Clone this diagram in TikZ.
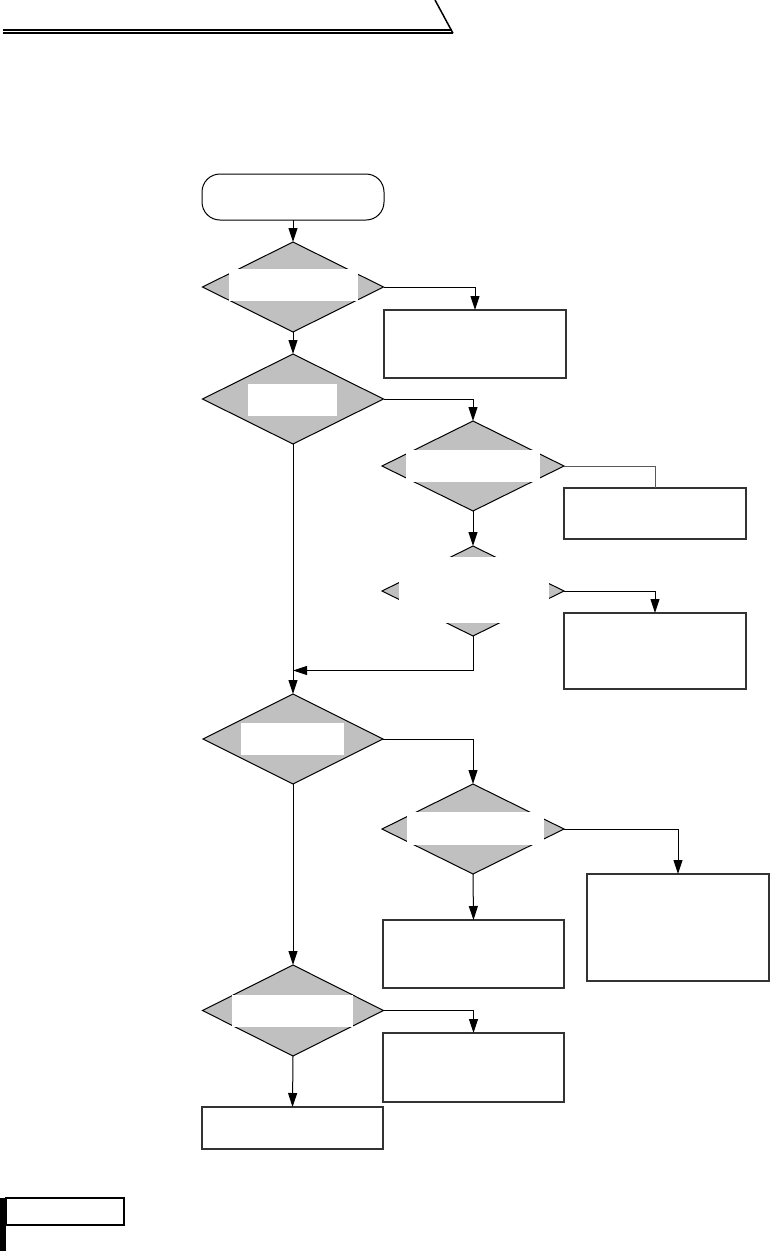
\documentclass[tikz,border=0pt]{standalone}
\usetikzlibrary{shapes.geometric,arrows.meta,calc}
\definecolor{dfill}{HTML}{C0C0C0}
\begin{document}
\begin{tikzpicture}[x=1pt,y=-1pt,
  dec/.style={diamond,draw=black,fill=dfill,line width=1pt,inner sep=0pt,outer sep=0pt},
  cover/.style={fill=white,draw=none,inner sep=0pt,outer sep=0pt},
  procbox/.style={rectangle,draw=black!80,line width=1.2pt,inner sep=0pt,outer sep=0pt,fill=white},
  conn/.style={line width=1pt,draw=black},
  arr/.style={conn,-{Triangle[length=14pt,width=9pt]}}]
\useasboundingbox (0,0) rectangle (771,1251);
% header
\draw[line width=1.8pt] (3,29.8) -- (451.5,29.8);
\draw[line width=1.8pt] (3,33.3) -- (453,33.3);
\draw[line width=1.5pt] (435,0) -- (453,33.3);
% start
\node[draw=black,line width=1pt,rounded corners=18pt,minimum width=182pt,minimum height=46pt,inner sep=0pt,outer sep=0pt] (start) at (293,197) {};
% diamonds
\node[dec,minimum width=181pt,minimum height=90pt] (d1) at (293,287) {};
\node[cover,minimum width=129pt,minimum height=32pt] (w1) at (293.5,285) {};
\node[dec,minimum width=181pt,minimum height=90pt] (d2) at (293,399) {};
\node[cover,minimum width=89pt,minimum height=32pt] (w2) at (292.5,400) {};
\node[dec,minimum width=182pt,minimum height=90pt] (d3) at (473,466) {};
\node[cover,minimum width=134pt,minimum height=32pt] (w3) at (473,466) {};
\node[dec,minimum width=182pt,minimum height=90pt] (d4) at (473,591) {};
\node[cover,minimum width=150pt,minimum height=66pt] (w4) at (474,590) {};
\node[dec,minimum width=180pt,minimum height=90pt] (d5) at (293,739) {};
\node[cover,minimum width=103pt,minimum height=32pt] (w5) at (292.5,739) {};
\node[dec,minimum width=182pt,minimum height=90pt] (d6) at (473,829) {};
\node[cover,minimum width=137pt,minimum height=33pt] (w6) at (475.5,828.5) {};
\node[dec,minimum width=181pt,minimum height=91pt] (d7) at (293,1010.5) {};
\node[cover,minimum width=121pt,minimum height=32pt] (w7) at (292.5,1011) {};
% boxes
\node[procbox,minimum width=182pt,minimum height=68pt] (b1) at (475,344) {};
\node[procbox,minimum width=182pt,minimum height=51pt] (b2) at (655,513.5) {};
\node[procbox,minimum width=182pt,minimum height=76pt] (b3) at (655,651) {};
\node[procbox,minimum width=182pt,minimum height=107pt] (b4) at (678,927.5) {};
\node[procbox,minimum width=181pt,minimum height=68pt] (b5) at (473.5,954) {};
\node[procbox,minimum width=181pt,minimum height=69pt] (b6) at (473.5,1067.5) {};
\node[procbox,minimum width=181pt,minimum height=42pt] (b7) at (292.5,1128) {};
% connectors
\draw[arr] (start) -- (d1);
\draw[arr] (d1.east) -| (b1.north);
\draw[arr] (d1.south) -- (d2.north);
\draw[arr] (d2.east) -| (d3.north);
\draw[conn,draw=black!65,line width=0.8pt] (d3.east) -| (b2.north);
\draw[arr] (d3.south) -- (d4.north);
\draw[arr] (d4.east) -| (b3.north);
\coordinate (m) at (293,670.5);
\draw[arr] (d4.south) |- (m);
\draw[arr] (d2.south) -- (d5.north);
\draw[arr] (d5.east) -| (d6.north);
\draw[arr] (d6.east) -| (b4.north);
\draw[arr] (d6.south) -- (b5.north);
\draw[arr] (d5.south) -- (d7.north);
\draw[arr] (d7.east) -| (b6.north);
\draw[arr] (d7.south) -- (b7.north);
% footer
\fill[black] (0,1198) rectangle (6,1251);
\node[draw=black,line width=1.3pt,minimum width=118pt,minimum height=27pt,inner sep=0pt,outer sep=0pt] (fbox) at (65,1211.5) {};
\end{tikzpicture}
\end{document}
